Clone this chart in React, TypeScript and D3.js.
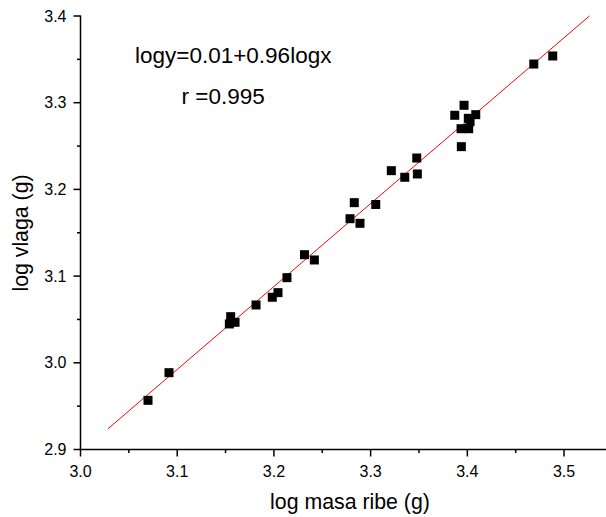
import React from "react";
import * as d3 from "d3";

const logMasa: number[] = [
  3.0698, 3.0915, 3.1553, 3.1539, 3.1598, 3.1815, 3.1983, 3.2042, 3.2135, 3.2316,
  3.2418, 3.2787, 3.2831, 3.289, 3.3053, 3.3214, 3.3353, 3.3483, 3.3477, 3.387,
  3.3966, 3.4087, 3.401, 3.4028, 3.3935, 3.4014, 3.3938, 3.4687, 3.4883,
];
const logVlaga: number[] = [
  2.9567, 2.9886, 3.0532, 3.0448, 3.0467, 3.0667, 3.0756, 3.0809, 3.0982, 3.1247,
  3.1186, 3.1662, 3.1847, 3.1609, 3.1826, 3.2216, 3.214, 3.2178, 3.2362, 3.2855,
  3.297, 3.2862, 3.282, 3.2781, 3.27, 3.27, 3.2493, 3.3446, 3.3539,
];
const xMajorTicks: number[] = [3.0, 3.1, 3.2, 3.3, 3.4, 3.5];
const xMinorTicks: number[] = [3.05, 3.15, 3.25, 3.35, 3.45, 3.55];
const yMajorTicks: number[] = [2.9, 3.0, 3.1, 3.2, 3.3, 3.4];
const yMinorTicks: number[] = [2.95, 3.05, 3.15, 3.25, 3.35];
const fitIntercept = 0.0275;
const fitSlope = 0.9564;
const fitRange: number[] = [3.0284, 3.5263];
const equationText = "logy=0.01+0.96logx";
const rText = "r =0.995";
const xTitle = "log masa ribe (g)";
const yTitle = "log vlaga (g)";

const W = 606;
const H = 517;
const FONT = "'Liberation Sans', Arial, sans-serif";

export default function App() {
  const x = d3.scaleLinear().domain([3.0, 3.55]).range([80.5, 612.4]);
  const y = d3.scaleLinear().domain([2.9, 3.4]).range([449.5, 16]);
  const fitLine = d3
    .line<number>()
    .x((d) => x(d))
    .y((d) => y(fitIntercept + fitSlope * d));
  const sq = 9;
  const axisBottom = y(2.9);
  const axisLeft = x(3.0);
  return (
    <svg
      width={W}
      height={H}
      style={{ position: "absolute", left: 0, top: 0, background: "#fff" }}
      fontFamily={FONT}
    >
      <rect x={0} y={0} width={W} height={H} fill="#fff" />
      <path d={fitLine(fitRange) || ""} stroke="#ff0000" strokeWidth={1} fill="none" />
      {logMasa.map((v, i) => (
        <rect
          key={i}
          x={x(v) - sq / 2}
          y={y(logVlaga[i]) - sq / 2}
          width={sq}
          height={sq}
          fill="#000"
        />
      ))}
      <line x1={axisLeft} x2={W + 10} y1={axisBottom} y2={axisBottom} stroke="#000" strokeWidth={1.5} />
      <line x1={axisLeft} x2={axisLeft} y1={y(3.4) - 0.5} y2={axisBottom} stroke="#000" strokeWidth={1.5} />
      {xMajorTicks.map((t) => (
        <g key={"xm" + t}>
          <line x1={x(t)} x2={x(t)} y1={axisBottom} y2={axisBottom + 7} stroke="#000" strokeWidth={1.5} />
          <text x={x(t)} y={477} textAnchor="middle" fontSize={16} fill="#000">
            {d3.format(".1f")(t)}
          </text>
        </g>
      ))}
      {xMinorTicks.map((t) => (
        <line key={"xn" + t} x1={x(t)} x2={x(t)} y1={axisBottom} y2={axisBottom + 3.5} stroke="#000" strokeWidth={1.5} />
      ))}
      {yMajorTicks.map((t) => (
        <g key={"ym" + t}>
          <line x1={axisLeft - 7} x2={axisLeft} y1={y(t)} y2={y(t)} stroke="#000" strokeWidth={1.5} />
          <text x={66.5} y={y(t) + 5.5} textAnchor="end" fontSize={16} fill="#000">
            {d3.format(".1f")(t)}
          </text>
        </g>
      ))}
      {yMinorTicks.map((t) => (
        <line key={"yn" + t} x1={axisLeft - 3.5} x2={axisLeft} y1={y(t)} y2={y(t)} stroke="#000" strokeWidth={1.5} />
      ))}
      <text x={350} y={509} textAnchor="middle" fontSize={21.3} fill="#000">
        {xTitle}
      </text>
      <text
        transform={`translate(28,${233}) rotate(-90)`}
        textAnchor="middle"
        fontSize={21.3}
        fill="#000"
      >
        {yTitle}
      </text>
      <text x={135} y={63} fontSize={22.5} fill="#000">
        {equationText}
      </text>
      <text x={181.5} y={104} fontSize={22.5} fill="#000">
        {rText}
      </text>
    </svg>
  );
}
